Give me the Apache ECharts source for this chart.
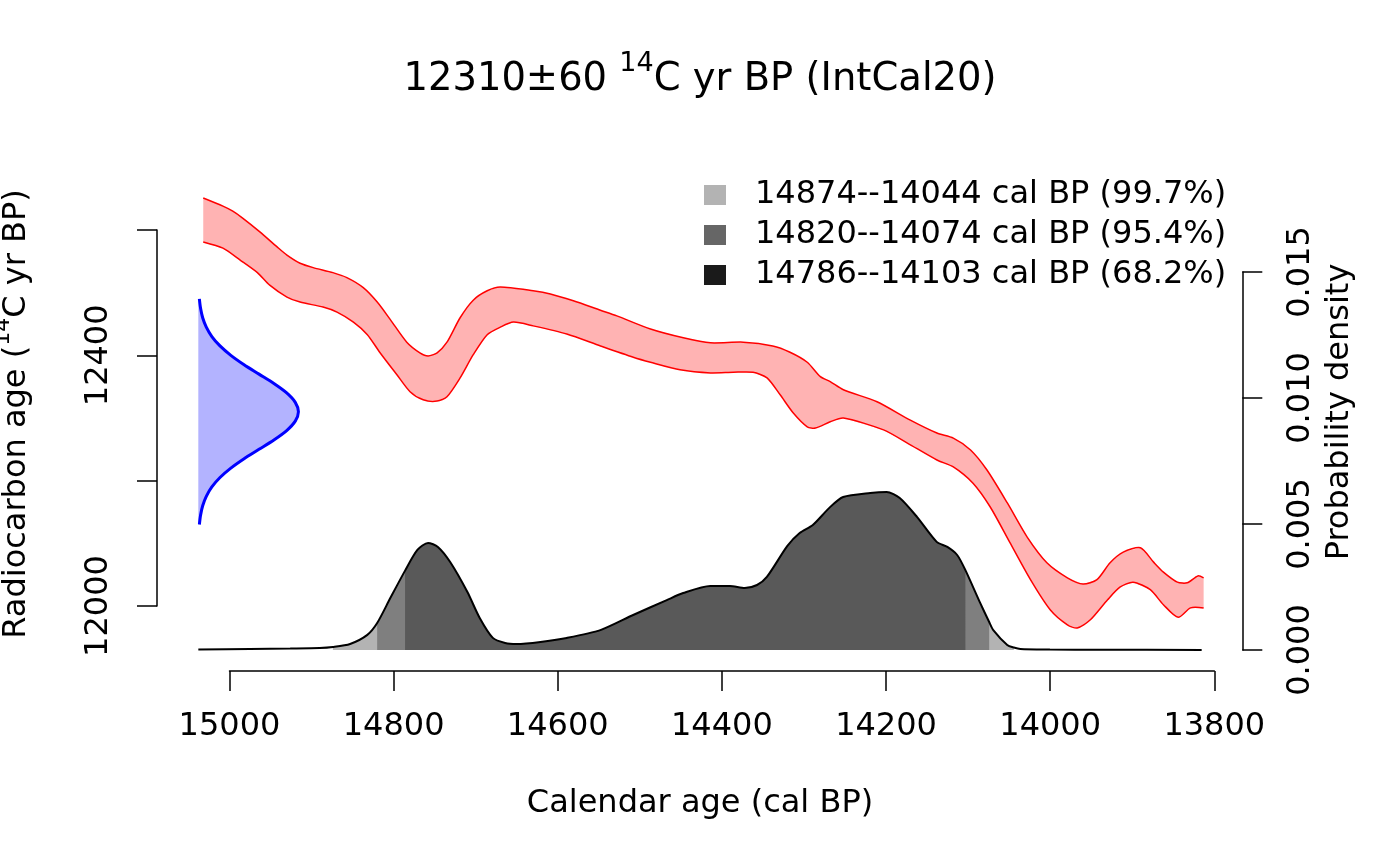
<!DOCTYPE html>
<html>
<head>
<meta charset="utf-8">
<script src="https://cdn.jsdelivr.net/npm/echarts@6/dist/echarts.min.js"></script>
<style>html,body{margin:0;padding:0;background:#fff}#chart{width:1400px;height:865px}</style>
</head>
<body>
<div id="chart"></div>
<script>
const FONT = 'DejaVu Sans';

// IntCal20 calibration band (calendar age BP -> radiocarbon age BP)
const bandUpperYears = [15032,15008,14996,14984,14963,14942,14930,14914,14898,14874,14857,14837,14820,14804,14784,14768,14758,14747,14735,14719,14703,14686,14670,14630,14609,14581,14548,14528,14487,14447,14414,14374,14338,14317,14296,14280,14268,14252,14211,14171,14138,14118,14097,14077,14052,14028,14004,13979,13960,13943,13927,13911,13890,13874,13862,13845,13833,13820,13813];
const bandUpperAges  = [12651,12638,12630,12619,12597,12573,12560,12547,12540,12532,12524,12508,12485,12457,12421,12404,12399,12404,12421,12460,12488,12503,12509,12503,12498,12487,12472,12463,12442,12428,12420,12421,12415,12405,12389,12366,12358,12345,12326,12297,12276,12268,12249,12217,12164,12110,12069,12045,12035,12042,12069,12086,12093,12070,12054,12038,12037,12048,12045];
const bandLowerYears = [15032,15008,14987,14966,14951,14930,14914,14886,14869,14849,14832,14817,14796,14780,14764,14747,14735,14719,14703,14686,14670,14654,14630,14589,14548,14508,14487,14451,14414,14386,14362,14345,14329,14313,14296,14286,14268,14252,14203,14174,14138,14118,14094,14073,14049,14024,14000,13979,13967,13951,13930,13915,13899,13878,13862,13844,13829,13813];
const bandLowerAges  = [12581,12571,12552,12532,12512,12493,12485,12477,12469,12453,12433,12405,12369,12342,12329,12327,12334,12364,12401,12433,12445,12453,12447,12434,12415,12397,12389,12377,12372,12373,12373,12364,12337,12308,12286,12284,12294,12300,12281,12260,12233,12222,12196,12158,12101,12042,11994,11970,11965,11978,12010,12030,12038,12026,12002,11982,11997,11997];

// Radiocarbon determination 12310 +/- 60 (density per 14C year)
const c14Ages    = [12130,12145,12160,12175,12190,12205,12220,12235,12250,12265,12280,12295,12310,12325,12340,12355,12370,12385,12400,12415,12430,12445,12460,12475,12490];
const c14Density = [0.00007,0.00015,0.00029,0.00053,0.0009,0.00144,0.00216,0.00304,0.00403,0.00502,0.00587,0.00644,0.00665,0.00644,0.00587,0.00502,0.00403,0.00304,0.00216,0.00144,0.0009,0.00053,0.00029,0.00015,0.00007];

// Calibrated probability density
const calYears   = [15038,14975,14926,14890,14874,14853,14832,14820,14804,14786,14771,14758,14746,14731,14710,14695,14679,14664,14650,14621,14589,14548,14508,14467,14447,14414,14390,14372,14357,14345,14320,14305,14289,14268,14252,14219,14199,14183,14162,14138,14125,14113,14103,14085,14074,14069,14052,14044,14036,14000,13939,13815];
const calDensity = [0.00002,0.00004,0.00006,0.00008,0.00012,0.00024,0.0006,0.00107,0.00206,0.00315,0.00397,0.00425,0.00409,0.00349,0.0023,0.00127,0.00048,0.00028,0.00024,0.00032,0.00048,0.00079,0.00139,0.00198,0.00226,0.00254,0.00254,0.00246,0.00258,0.0029,0.00413,0.00464,0.00496,0.00567,0.00607,0.00623,0.00627,0.00603,0.00528,0.00429,0.00409,0.00377,0.00317,0.00187,0.00111,0.00079,0.0002,0.0001,0.00004,0.00002,0.00001,0];

// Highest density ranges
const rangeLabels = ['14874--14044 cal BP (99.7%)','14820--14074 cal BP (95.4%)','14786--14103 cal BP (68.2%)'];
const rangeStarts = [14874,14820,14786];
const rangeEnds   = [14044,14074,14103];

// Axis ticks
const calTicks = [15000,14800,14600,14400,14200,14000,13800];
const calTickLabels = ['15000','14800','14600','14400','14200','14000','13800'];
const radioTicks = [12000,12200,12400,12600];
const radioTickLabels = ['12000','','12400',''];
const densTicks = [0,0.005,0.010,0.015];
const densTickLabels = ['0.000','0.005','0.010','0.015'];

// styles
const legendColors = ['#B3B3B3','#666666','#1A1A1A'];
const areaColors = ['#B3B3B3','#7F7F7F','#595959'];
const calLeftEdge = calYears[0];
const calRightEdge = calYears[calYears.length-1];
const blueWidthYears = 122;

const chart = echarts.init(document.getElementById('chart'), null, {renderer:'canvas'});

const axisLineStyle = {show:true, onZero:false, lineStyle:{color:'#000', width:1.5}};
const axisTickStyle = {show:true, inside:false, length:20, lineStyle:{color:'#000', width:1.5}};
const labelBase = {fontFamily:FONT, fontSize:32, lineHeight:32, color:'#000'};
const nearestLabel = (ticks, labels, v) => { let b = 0; ticks.forEach((t,i)=>{ if (Math.abs(t-v) < Math.abs(ticks[b]-v)) b = i; }); return labels[b]; };

const rangeSeries = rangeLabels.map((name, k) => {
  const pts = [];
  calYears.forEach((y, i) => { if (y <= rangeStarts[k] && y >= rangeEnds[k]) pts.push([y, calDensity[i]]); });
  return {
    name: name, type:'line', xAxisIndex:2, yAxisIndex:2, data: pts,
    showSymbol:false, symbol:'none', silent:true, smooth:0.25,
    itemStyle:{color:legendColors[k]},
    lineStyle:{width:0, color:areaColors[k]},
    areaStyle:{color:areaColors[k], opacity:1},
    z: 2 + k
  };
});

const maxC14 = Math.max(...c14Density);

// plot-region extent in calendar years (R adds 4% around the data window)
const plotPadYears = (calLeftEdge - calRightEdge) * 0;

const option = {
  animation:false,
  backgroundColor:'#ffffff',
  title:{
    text:'{a|12310±60 }{s|14}{a|C yr BP (IntCal20)}',
    left:'center', top:50, padding:0,
    textStyle:{fontWeight:'normal', rich:{
      a:{fontFamily:FONT, fontSize:38.5, lineHeight:60, color:'#000', fontWeight:'normal'},
      s:{fontFamily:FONT, fontSize:27, lineHeight:27, verticalAlign:'top', color:'#000', fontWeight:'normal'}
    }}
  },
  legend:{
    orient:'vertical', left:704, top:179, padding:0, itemGap:8,
    itemWidth:22, itemHeight:20, selectedMode:false,
    textStyle:{fontFamily:FONT, fontSize:32, lineHeight:32, color:'#000', padding:[0,0,0,24]},
    data: rangeLabels.map((n,k)=>({name:n, icon:'rect', itemStyle:{color:legendColors[k], borderWidth:0}}))
  },
  grid:[
    {left:229.5, right:185.7, top:230, bottom:259, outerBoundsMode:'none', containLabel:false},
    {left:229.5, right:185.7, top:272, bottom:215, outerBoundsMode:'none', containLabel:false},
    {left:198, right:198, top:272, bottom:215, outerBoundsMode:'none', containLabel:false}
  ],
  xAxis:[
    {type:'value', gridIndex:1, inverse:true, min:13800, max:15000, interval:200, offset:21,
     position:'bottom',
     axisLine:axisLineStyle, axisTick:axisTickStyle, splitLine:{show:false},
     axisLabel:Object.assign({margin:40, showMinLabel:true, showMaxLabel:true,
       formatter:(v)=>nearestLabel(calTicks, calTickLabels, v)}, labelBase)},
    {type:'value', gridIndex:0, show:false, inverse:true, min:13800, max:15000, splitLine:{show:false}},
    {type:'value', gridIndex:2, show:false, inverse:true, min:13814.6, max:15038.4, splitLine:{show:false}}
  ],
  yAxis:[
    {type:'value', gridIndex:0, position:'left', offset:72.5, min:12000, max:12600, interval:200,
     axisLine:axisLineStyle, axisTick:axisTickStyle, splitLine:{show:false},
     axisLabel:Object.assign({rotate:90, margin:42, showMinLabel:true, showMaxLabel:true,
       formatter:(v)=>nearestLabel(radioTicks, radioTickLabels, v)}, labelBase)},
    {type:'value', gridIndex:1, position:'right', offset:28, min:0, max:0.015, interval:0.005,
     axisLine:axisLineStyle, axisTick:axisTickStyle, splitLine:{show:false},
     axisLabel:Object.assign({rotate:90, margin:42, showMinLabel:true, showMaxLabel:true,
       formatter:(v)=>nearestLabel(densTicks, densTickLabels, v)}, labelBase)},
    {type:'value', gridIndex:2, show:false, min:0, max:0.015, splitLine:{show:false}}
  ],
  graphic:[
    {type:'text', x:16.5, y:414, rotation:Math.PI/2, silent:true,
     style:{text:'{a|Radiocarbon age (}{s|14}{a|C yr BP)}', align:'center', verticalAlign:'middle',
       rich:{a:{fontFamily:FONT, fontSize:32, lineHeight:49, fill:'#000'},
             s:{fontFamily:FONT, fontSize:22, lineHeight:22, verticalAlign:'top', fill:'#000'}}}},
    {type:'text', x:1340, y:412, rotation:Math.PI/2, silent:true,
     style:{text:'Probability density', fontFamily:FONT, fontSize:32, fill:'#000', align:'center', verticalAlign:'middle'}},
    {type:'text', x:700, y:804, silent:true,
     style:{text:'Calendar age (cal BP)', fontFamily:FONT, fontSize:32, fill:'#000', align:'center', verticalAlign:'middle'}}
  ],
  series:[
    {
      type:'custom', name:'IntCal20', xAxisIndex:1, yAxisIndex:0, silent:true, z:1,
      data:[[14500,12300]],
      renderItem:function(params, api){
        const up = bandUpperYears.map((y,i)=>api.coord([y, bandUpperAges[i]]));
        const lo = bandLowerYears.map((y,i)=>api.coord([y, bandLowerAges[i]]));
        return {type:'group', children:[
          {type:'polygon', shape:{points: up.concat(lo.slice().reverse())}, style:{fill:'#FFB3B3', stroke:null}},
          {type:'polyline', shape:{points: up, smooth:0.25}, style:{stroke:'#FF0000', lineWidth:1.5, fill:null}},
          {type:'polyline', shape:{points: lo, smooth:0.25}, style:{stroke:'#FF0000', lineWidth:1.5, fill:null}}
        ]};
      }
    },
    {
      type:'custom', name:'14C date', xAxisIndex:1, yAxisIndex:0, silent:true, z:1,
      data:[[14500,12300]],
      renderItem:function(params, api){
        const curve = c14Ages.map((a,i)=>api.coord([calLeftEdge - c14Density[i]/maxC14*blueWidthYears, a]));
        const base0 = api.coord([calLeftEdge, c14Ages[0]]);
        const base1 = api.coord([calLeftEdge, c14Ages[c14Ages.length-1]]);
        return {type:'group', children:[
          {type:'polygon', shape:{points:[base0].concat(curve, [base1])}, style:{fill:'#B3B3FF', stroke:null}},
          {type:'polyline', shape:{points:curve, smooth:0.3}, style:{stroke:'#0000FF', lineWidth:3, fill:null}}
        ]};
      }
    },
    ...rangeSeries,
    {
      type:'line', name:'density', xAxisIndex:2, yAxisIndex:2, silent:true, smooth:0.25,
      data: calYears.map((y,i)=>[y, calDensity[i]]),
      showSymbol:false, symbol:'none',
      lineStyle:{color:'#000', width:2}, z:6
    }
  ]
};
chart.setOption(option);
</script>
</body>
</html>
